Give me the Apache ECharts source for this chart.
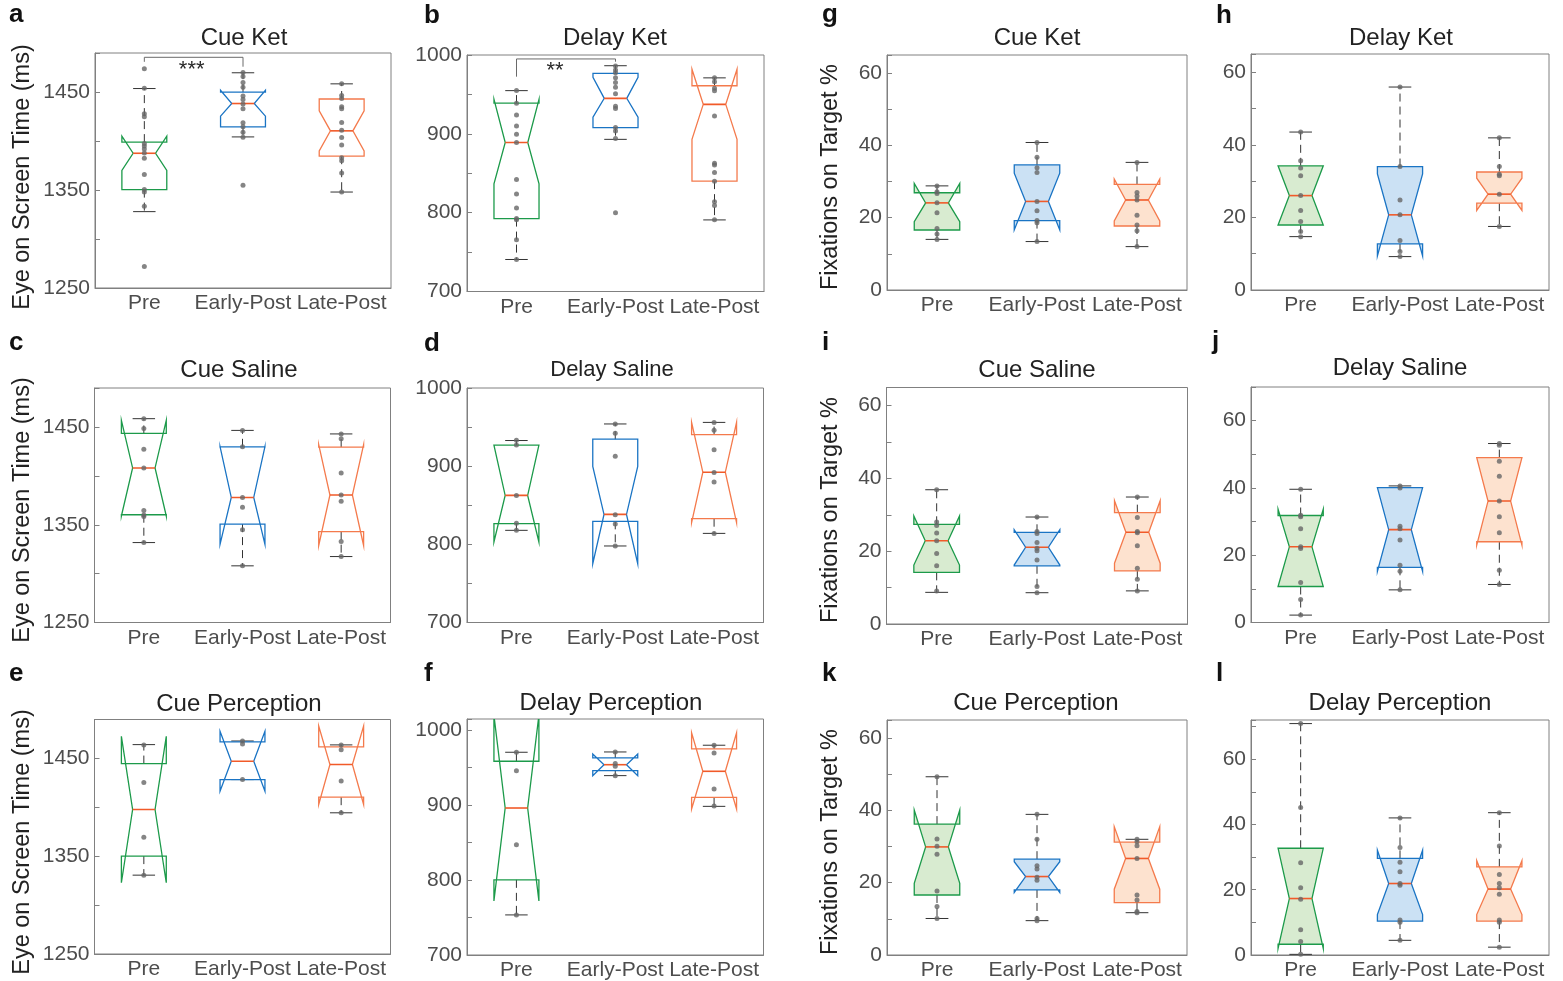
<!DOCTYPE html>
<html><head><meta charset="utf-8">
<script src="https://cdn.jsdelivr.net/npm/echarts@6/dist/echarts.min.js"></script>
<style>html,body{margin:0;padding:0;background:#fff}#c{width:1563px;height:981px}</style>
</head><body><div id="c"></div>
<script>
const categories = ['Pre', 'Early-Post', 'Late-Post'];
// Box stats per group: [lowerWhisker, q1, notchLow, median, notchHigh, q3, upperWhisker]
const statsA = [[1328, 1350.5, 1370, 1387.6, 1405, 1399, 1453.7], [1404.3, 1414.6, 1425.5, 1438.4, 1452, 1450, 1469.8], [1348, 1384.6, 1390, 1410.5, 1431, 1443, 1458.5]];
const pointsA = [[1474, 1454, 1428, 1425, 1397.5, 1395, 1392, 1388, 1382.5, 1366, 1350.5, 1348, 1333.5, 1272], [1470, 1466, 1460, 1455, 1446, 1442.5, 1438, 1433, 1418.7, 1414.6, 1409, 1404, 1355], [1458.5, 1446.6, 1443.5, 1435, 1433, 1419, 1411, 1403.7, 1396, 1383, 1380, 1367.5, 1348]];
const statsB = [[740.6, 792.5, 836.5, 889, 943.8, 939, 954.8], [893, 907.9, 921, 945, 971.6, 976.7, 986.4], [790.8, 840, 893, 937.4, 982, 961, 971]];
const pointsB = [[955, 938.7, 924, 910, 899.4, 889, 842, 823.8, 806, 792.5, 791, 765.5, 740.6], [986, 981, 977.6, 971, 965, 959, 951, 935, 932, 908, 903.6, 894, 800], [971, 966, 957.7, 954.8, 922.6, 862.6, 860.5, 850.8, 840, 814, 809, 791]];
const statsC = [[1331.8, 1360.3, 1359, 1408.2, 1457, 1443.5, 1458.6], [1308, 1350.7, 1330, 1378, 1430, 1429.8, 1446.6], [1317.5, 1343, 1328.8, 1380.5, 1432, 1429.5, 1443]];
const pointsC = [[1458.6, 1448.6, 1427.4, 1408, 1364.7, 1360, 1358.6, 1332], [1446.6, 1429.8, 1378, 1368, 1345, 1308], [1443, 1438, 1403, 1380.5, 1374, 1333, 1317.5]];
const statsD = [[817.9, 826.4, 803, 862.6, 927, 927, 932.8], [797.9, 829.4, 775.3, 838.3, 899.6, 934.5, 954], [814, 832.8, 827.7, 892.3, 956, 940.4, 956]];
const pointsD = [[933, 927, 862.6, 827, 818], [954, 942, 912.8, 838, 826, 798], [956, 946, 921, 892, 879.6, 814]];
const statsE = [[1330.7, 1350.2, 1322.9, 1397.9, 1472.8, 1444.9, 1464.3], [1428.5, 1428.5, 1416.6, 1447.3, 1478, 1467, 1468], [1394.5, 1410.5, 1403, 1443.9, 1483.4, 1462, 1464]];
const pointsE = [[1464, 1425.5, 1369.6, 1330.7], [1468, 1465, 1428.5], [1464, 1459, 1427, 1394.5]];
const statsF = [[753.5, 800.3, 772.2, 896.2, 1020, 958.6, 970.6], [939.4, 946, 939.4, 954, 968.4, 963, 971], [898.4, 910.4, 894.8, 945.2, 996.5, 975, 980]];
const pointsF = [[970.6, 946, 847, 753.5], [971, 955.5, 952, 939.4], [980, 969.7, 921.6, 899]];
const statsG = [[14, 16.6, 18.9, 24.1, 29.5, 26.9, 28.8], [13.4, 19.2, 16.6, 24.5, 32.3, 34.6, 40.8], [12, 17.7, 19.1, 24.9, 30.7, 29.2, 35.3]];
const pointsG = [[28.8, 27.2, 26.7, 24.1, 21.4, 17, 15.5, 14], [40.8, 36.7, 33.8, 32.5, 24.5, 21.9, 19.2, 18.6, 13.4], [35.3, 27, 26, 24.9, 20.7, 18, 16.4, 12]];
const statsH = [[14.7, 17.9, 17.9, 26, 34.2, 34.2, 43.5], [9.2, 12.7, 9.4, 20.7, 32, 34, 55.9], [17.5, 23.9, 21.9, 26.4, 30.8, 32.5, 41.9]];
const pointsH = [[43.5, 35.6, 33.6, 31.5, 26, 21.9, 18.9, 16.1, 14.7], [55.9, 34, 24.8, 20.7, 13.6, 10.6, 9.2], [41.9, 34, 31.9, 31.5, 26.4, 17.5]];
const statsI = [[8.7, 14.2, 16.2, 22.9, 29.7, 27.4, 36.9], [8.6, 16, 16.2, 21.1, 25.9, 25.2, 29.4], [9.1, 14.6, 16.7, 25.2, 33.9, 30.6, 34.9]];
const pointsI = [[36.9, 28, 27.1, 25, 22.9, 19.4, 16, 9.1], [29.4, 25.4, 24.9, 22.4, 20.8, 20.1, 17.6, 10.3, 8.6], [34.9, 29.3, 25.4, 25.1, 21.5, 15.3, 12.3, 9.1]];
const statsJ = [[2.2, 10.7, 10.7, 22.5, 33.7, 31.8, 39.6], [9.7, 16.4, 15.2, 27.6, 40.1, 40.1, 40.6], [11.3, 24, 23, 36.1, 49, 49, 53.2]];
const pointsJ = [[39.6, 31.9, 31.4, 27.9, 22.5, 22, 11.9, 6.8, 2.2], [40.6, 40, 28.6, 27.9, 24.5, 17, 15.2, 9.7], [53.2, 52.7, 47.9, 43.5, 36.1, 31.4, 26.7, 15.5, 11.3]];
const statsK = [[10.1, 16.6, 19.8, 29.9, 40.1, 36.2, 49.3], [9.5, 18, 17.3, 21.7, 25.8, 26.5, 38.9], [11.7, 14.5, 18.2, 26.7, 35.5, 31.2, 32]];
const pointsK = [[49.3, 32.1, 30.1, 27.9, 17.7, 13.4, 10.1], [38.9, 32, 24.7, 23.8, 21.5, 20.7, 10.1, 9.5], [32, 31.3, 30.2, 26.7, 16.6, 15.2, 12, 11.7]];
const statsL = [[0.2, 3.3, 2, 17.3, 32.7, 32.7, 70.9], [4.5, 10.4, 12.4, 21.9, 32.1, 29.6, 42], [2.4, 10.4, 12.4, 20.2, 28.9, 27, 43.6]];
const pointsL = [[70.9, 45.2, 28.3, 20.6, 17.1, 7.7, 4.1, 0.2], [42, 32.9, 28.4, 25.5, 21.9, 21.4, 10.7, 10, 4.5], [43.6, 33.4, 24.7, 21.9, 20.6, 18.6, 10.7, 10, 2.4]];
// Significance brackets: [fromCategory, toCategory, yTop, yLeftEnd, yRightEnd, labelCategoryPos, labelY]
const bracketA = [0, 1, 1485.6, 1481, 1476, 0.48, 1472.6];
const bracketB = [0, 1, 995, 972.5, 991.5, 0.39, 980];
const bracketLabels = ['***', '**'];
const panelTitles = ['Cue Ket', 'Delay Ket', 'Cue Saline', 'Delay Saline', 'Cue Perception', 'Delay Perception', 'Cue Ket', 'Delay Ket', 'Cue Saline', 'Delay Saline', 'Cue Perception', 'Delay Perception'];
const panelLetters = ['a', 'b', 'c', 'd', 'e', 'f', 'g', 'h', 'i', 'j', 'k', 'l'];
const yAxisTitles = ['Eye on Screen Time (ms)', 'Fixations on Target %'];
// y axis: [min, max, tickInterval, labelStep]
const yScales = [[1250, 1490, 50, 100], [700, 1000, 50, 100], [1250, 1490, 50, 100], [700, 1000, 50, 100], [1250, 1490, 50, 100], [700, 1015, 50, 100],
                 [0, 65, 10, 20], [0, 65, 10, 20], [0, 65, 10, 20], [0, 70, 10, 20], [0, 65, 10, 20], [0, 72, 10, 20]];

// ---- layout (pixel geometry, not data) ----
const gridBoxes = [ // [left, top, right, bottom]
  [95, 53, 391, 288], [467, 55, 764, 291.5], [94.5, 388, 390.5, 622.5], [467, 388, 763.5, 622.5], [94.5, 719.5, 390.5, 954], [467, 719, 763.5, 955],
  [887, 55, 1187, 290], [1251, 54, 1549, 290], [886.5, 387.5, 1187.5, 624], [1251, 387, 1549, 622.5], [887, 720, 1187, 955], [1251, 720, 1549, 955]
];
const titlePos = [[244, 38], [615, 38], [239, 370], [612, 370], [239, 704], [611, 703], [1037, 38], [1401, 38], [1037, 370], [1400, 368], [1036, 703], [1400, 703]];
const titleSize = [24, 24, 24, 22, 24, 24, 24, 24, 24, 24, 24, 24];
const letterPos = [[9, 28], [424, 29], [9, 356], [424, 357], [9, 687], [424, 687], [822, 28], [1216, 29], [822, 356], [1212, 355], [822, 687], [1216, 687]];
const yTitlePos = [[23, 177], [23, 510], [23, 842], [831, 177], [831, 510], [831, 842]];

const statsList = [statsA, statsB, statsC, statsD, statsE, statsF, statsG, statsH, statsI, statsJ, statsK, statsL];
const pointsList = [pointsA, pointsB, pointsC, pointsD, pointsE, pointsF, pointsG, pointsH, pointsI, pointsJ, pointsK, pointsL];

const strokeColors = ['#1C9A4A', '#1A74C4', '#F47A4C'];
const fillColors = ['#D8EBD0', '#CBE1F4', '#FDE2CF'];
const medianColor = '#F15A29';
const whiskerColor = '#333333';
const axisColor = '#808080';
const FONT = "'Liberation Sans', Arial, Helvetica, sans-serif";

function makeBoxRenderer(filled) {
  return function (params, api) {
    const ci = api.value(0);
    const band = api.size([1, 0])[0];
    const w = band * 0.455;
    const half = w / 2, ins = w / 4;
    const cx = api.coord([ci, api.value(4)])[0];
    const Y = v => api.coord([ci, v])[1];
    const wl = api.value(1), q1 = api.value(2), nlo = api.value(3), med = api.value(4), nhi = api.value(5), q3 = api.value(6), wh = api.value(7);
    const L = cx - half, R = cx + half;
    const col = strokeColors[ci];
    const pts = [[L, Y(q1)], [L, Y(nlo)], [L + ins, Y(med)], [L, Y(nhi)], [L, Y(q3)], [R, Y(q3)], [R, Y(nhi)], [R - ins, Y(med)], [R, Y(nlo)], [R, Y(q1)]];
    const dash = [8, 5];
    const capH = half / 2;
    return {
      type: 'group',
      children: [
        { type: 'line', shape: { x1: cx, y1: Y(q3), x2: cx, y2: Y(wh) }, style: { stroke: whiskerColor, lineWidth: 1, lineDash: dash } },
        { type: 'line', shape: { x1: cx, y1: Y(q1), x2: cx, y2: Y(wl) }, style: { stroke: whiskerColor, lineWidth: 1, lineDash: dash } },
        { type: 'line', shape: { x1: cx - capH, y1: Y(wh), x2: cx + capH, y2: Y(wh) }, style: { stroke: whiskerColor, lineWidth: 1 } },
        { type: 'line', shape: { x1: cx - capH, y1: Y(wl), x2: cx + capH, y2: Y(wl) }, style: { stroke: whiskerColor, lineWidth: 1 } },
        { type: 'polygon', shape: { points: pts }, style: { fill: filled ? fillColors[ci] : 'none', stroke: col, lineWidth: 1.3 } },
        { type: 'line', shape: { x1: L + ins, y1: Y(med), x2: R - ins, y2: Y(med) }, style: { stroke: medianColor, lineWidth: 1.6 } }
      ]
    };
  };
}

function bracketRenderer(params, api) {
  const p0 = api.coord([api.value(0), api.value(2)]);
  const p1 = api.coord([api.value(1), api.value(2)]);
  const yl = api.coord([api.value(0), api.value(3)])[1];
  const yr = api.coord([api.value(1), api.value(4)])[1];
  const c0 = api.coord([0, api.value(6)]);
  const c1 = api.coord([1, api.value(6)]);
  const lx = c0[0] + (c1[0] - c0[0]) * api.value(5);
  return {
    type: 'group',
    children: [
      { type: 'polyline', shape: { points: [[p0[0], yl], [p0[0], p0[1]], [p1[0], p1[1]], [p1[0], yr]] }, style: { stroke: '#6a6a6a', lineWidth: 1, fill: 'none' } },
      { type: 'text', x: lx, y: c0[1], style: { text: bracketLabels[api.value(7)], font: '22px ' + FONT, fill: '#2a2a2a', textAlign: 'center', textVerticalAlign: 'middle' } }
    ]
  };
}

const grid = [], xAxis = [], yAxis = [], series = [], graphic = [];
gridBoxes.forEach((g, i) => {
  grid.push({ left: g[0], top: g[1], width: g[2] - g[0], height: g[3] - g[1], show: true, borderColor: axisColor, borderWidth: 1, containLabel: false });
  xAxis.push({
    type: 'category', gridIndex: i, data: categories, boundaryGap: true,
    axisLine: { lineStyle: { color: axisColor } },
    axisTick: { inside: true, alignWithLabel: true, length: 5, lineStyle: { color: axisColor } },
    axisLabel: { color: '#4d4d4d', fontSize: 21, fontFamily: FONT, margin: 5, interval: 0 },
    splitLine: { show: false }
  });
  const s = yScales[i];
  yAxis.push({
    type: 'value', gridIndex: i, min: s[0], max: s[1], interval: s[2],
    axisLine: { show: true, lineStyle: { color: axisColor } },
    axisTick: { show: true, inside: true, length: 5, lineStyle: { color: axisColor } },
    axisLabel: { color: '#4d4d4d', fontSize: 21, fontFamily: FONT, margin: 5, showMaxLabel: true,
      formatter: v => (Math.abs((v - s[0]) % s[3]) < 1e-6 && v % s[2] === 0) ? String(v) : '' },
    splitLine: { show: false }
  });
  const filled = i >= 6;
  series.push({
    type: 'custom', xAxisIndex: i, yAxisIndex: i, clip: true, z: 2,
    renderItem: makeBoxRenderer(filled),
    encode: { x: 0, y: [1, 2, 3, 4, 5, 6, 7] },
    data: statsList[i].map((st, ci) => [ci].concat(st))
  });
  const pts = [];
  pointsList[i].forEach((arr, ci) => arr.forEach(v => pts.push([ci, v])));
  series.push({
    type: 'scatter', xAxisIndex: i, yAxisIndex: i, z: 4, symbol: 'circle', symbolSize: 5,
    itemStyle: { color: '#676767' }, silent: true, data: pts
  });
  graphic.push({ type: 'text', x: titlePos[i][0], y: titlePos[i][1], style: { text: panelTitles[i], font: titleSize[i] + 'px ' + FONT, fill: '#222', textAlign: 'center', textVerticalAlign: 'middle' } });
  graphic.push({ type: 'text', x: letterPos[i][0], y: letterPos[i][1], style: { text: panelLetters[i], font: 'bold 26px ' + FONT, fill: '#111', textAlign: 'left', textVerticalAlign: 'bottom' } });
});
[[bracketA, 0, 0], [bracketB, 1, 1]].forEach(([b, gi, li]) => {
  series.push({
    type: 'custom', xAxisIndex: gi, yAxisIndex: gi, z: 5, renderItem: bracketRenderer,
    encode: { x: [0, 1], y: [2] },
    data: [b.concat([li])]
  });
});
yTitlePos.forEach((p, k) => {
  graphic.push({ type: 'text', x: p[0], y: p[1], rotation: Math.PI / 2, style: { text: yAxisTitles[k < 3 ? 0 : 1], font: '23.5px ' + FONT, fill: '#222', textAlign: 'center', textVerticalAlign: 'middle' } });
});

const chart = echarts.init(document.getElementById('c'), null, { renderer: 'canvas' });
chart.setOption({ animation: false, backgroundColor: '#fff', grid, xAxis, yAxis, series, graphic });
</script>
</body></html>
